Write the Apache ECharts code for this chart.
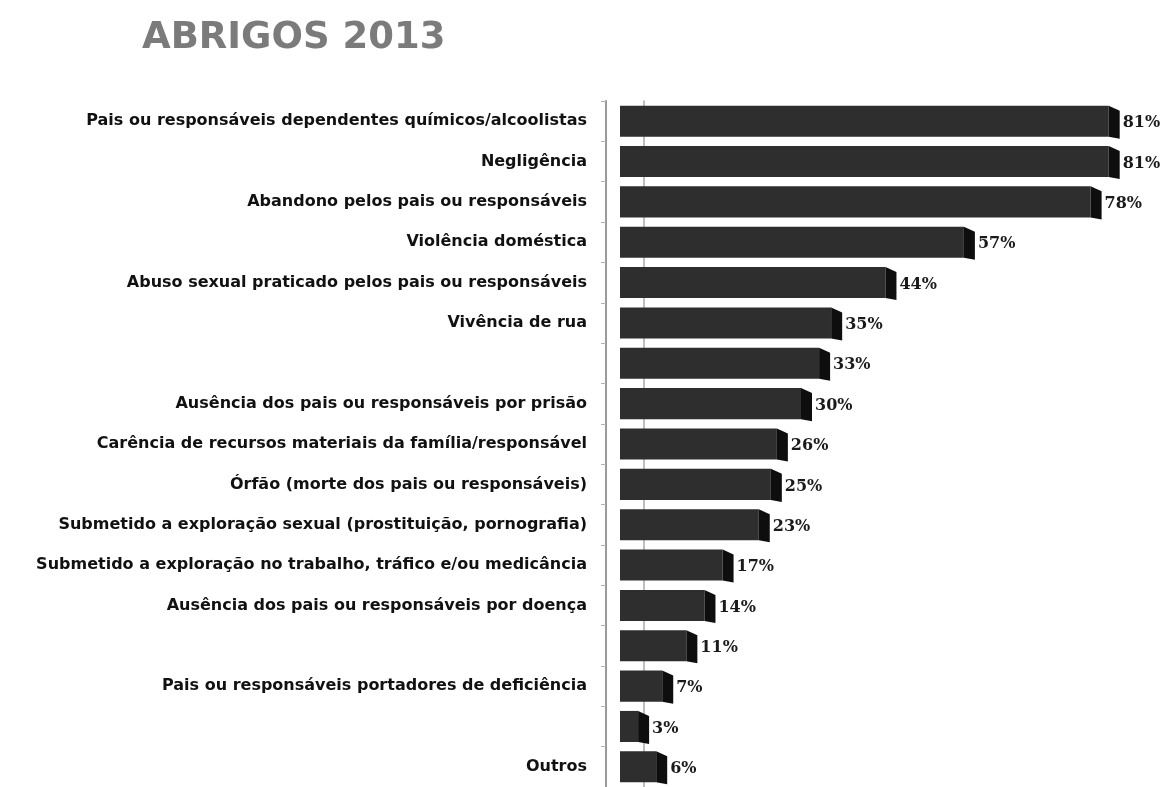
<!DOCTYPE html>
<html>
<head>
<meta charset="utf-8">
<script src="https://cdn.jsdelivr.net/npm/echarts@6/dist/echarts.min.js"></script>
<style>
html,body{margin:0;padding:0;background:#fff;}
#chart{width:1168px;height:787px;}
</style>
</head>
<body>
<div id="chart"></div>
<script>
const titleText = 'ABRIGOS 2013';
const categories = [
  'Pais ou responsáveis dependentes químicos/alcoolistas',
  'Negligência',
  'Abandono pelos pais ou responsáveis',
  'Violência doméstica',
  'Abuso sexual praticado pelos pais ou responsáveis',
  'Vivência de rua',
  '',
  'Ausência dos pais ou responsáveis por prisão',
  'Carência de recursos materiais da família/responsável',
  'Órfão (morte dos pais ou responsáveis)',
  'Submetido a exploração sexual (prostituição, pornografia)',
  'Submetido a exploração no trabalho, tráfico e/ou medicância',
  'Ausência dos pais ou responsáveis por doença',
  '',
  'Pais ou responsáveis portadores de deficiência',
  '',
  'Outros'
];
const values = [81, 81, 78, 57, 44, 35, 33, 30, 26, 25, 23, 17, 14, 11, 7, 3, 6];

const catKeys = categories.map((c, i) => i + '|' + c);
const seriesData = values.map((v, i) => [v, i]);

const chart = echarts.init(document.getElementById('chart'));
chart.setOption({
  backgroundColor: '#ffffff',
  animation: false,
  title: {
    text: titleText,
    left: 137,
    top: 15,
    textStyle: {
      fontFamily: 'DejaVu Sans',
      fontWeight: 'bold',
      fontSize: 37,
      color: '#7b7b7b'
    }
  },
  grid: {
    left: 620,
    top: 101,
    width: 543,
    height: 690
  },
  xAxis: {
    type: 'value',
    min: 0,
    max: 90,
    show: false
  },
  yAxis: [
    {
      type: 'category',
      inverse: true,
      data: catKeys,
      offset: 14,
      axisLine: { show: true, onZero: false, lineStyle: { color: '#9a9a9a', width: 2 } },
      axisTick: { show: true, length: 5, lineStyle: { color: '#b0b0b0' } },
      axisLabel: {
        margin: 19,
        fontFamily: 'DejaVu Sans',
        fontWeight: 'bold',
        fontSize: 16,
        color: '#111',
        formatter: (v) => v.slice(v.indexOf('|') + 1)
      }
    },
    {
      type: 'category',
      position: 'left',
      inverse: true,
      data: catKeys,
      offset: -24,
      axisLine: { show: true, onZero: false, lineStyle: { color: '#a8a8a8', width: 1.5 } },
      axisTick: { show: false },
      axisLabel: { show: false }
    }
  ],
  series: [{
    type: 'custom',
    yAxisIndex: 0,
    encode: { x: 0, y: 1 },
    data: seriesData,
    renderItem: function (params, api) {
      const v = api.value(0);
      const c = api.value(1);
      const start = api.coord([0, c]);
      const end = api.coord([v, c]);
      const h = api.size([0, 1])[1] * 0.77;
      const top = start[1] - h / 2;
      const dx = 11, dy = 5;
      return {
        type: 'group',
        children: [
          {
            type: 'rect',
            shape: { x: start[0], y: top, width: end[0] - start[0], height: h },
            style: { fill: '#2e2e2e' }
          },
          {
            type: 'polygon',
            shape: { points: [[end[0], top], [end[0] + dx, top + dy], [end[0] + dx, top + h + dy * 0.4], [end[0], top + h]] },
            style: { fill: '#0e0e0e' }
          },
          {
            type: 'text',
            style: {
              text: v + '%',
              x: end[0] + dx + 3,
              y: start[1] + 2,
              verticalAlign: 'middle',
              align: 'left',
              fontFamily: 'DejaVu Serif',
              fontWeight: 'bold',
              fontSize: 16,
              fill: '#1a1a1a'
            }
          }
        ]
      };
    }
  }]
});
</script>
</body>
</html>
